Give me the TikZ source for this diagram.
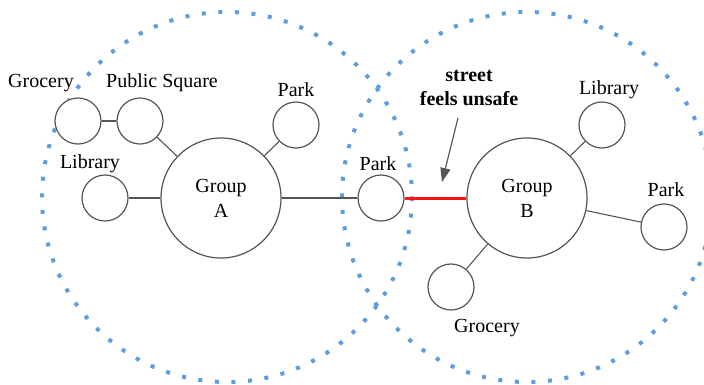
\documentclass[tikz,border=0pt]{standalone}
\usepackage{fontspec}
\setmainfont{Liberation Serif}
\usetikzlibrary{arrows.meta}
\definecolor{dotblue}{RGB}{95,158,222}
\definecolor{edgegray}{RGB}{85,85,85}
\definecolor{streetred}{RGB}{255,20,20}
\tikzset{
  spot/.style={circle, draw=edgegray, line width=1.2pt, minimum size=46pt, inner sep=0pt, fill=white},
  grp/.style={circle, draw=edgegray, line width=1.2pt, minimum size=120pt, inner sep=0pt, fill=white, align=center, font=\fontsize{20}{25}\selectfont},
  lbl/.style={font=\fontsize{20}{24}\selectfont, inner sep=0pt},
  link/.style={draw=edgegray, line width=1.1pt},
  zone/.style={draw=dotblue, line width=4pt, dash pattern=on 4pt off 12.6pt}
}
\begin{document}
\begin{tikzpicture}[x=1pt,y=-1pt]
\clip (0,0) rectangle (704,384);
\fill[white] (0,0) rectangle (704,384);
% zones
\draw[zone] (227,197) circle (185);
\draw[zone] (527,197) circle (185);
% nodes
\node[grp] (ga) at (221,198) {Group\\A};
\node[grp] (gb) at (527,198) {Group\\B};
\node[spot] (gro1) at (78,121) {};
\node[spot] (pub) at (140,121) {};
\node[spot] (park1) at (296,125) {};
\node[spot] (lib1) at (105,198) {};
\node[spot] (park2) at (381,198) {};
\node[spot] (lib2) at (602,125) {};
\node[spot] (park3) at (664,227) {};
\node[spot] (gro2) at (451,287) {};
% labels
\node[lbl] (tgro1) at (41,83) {Grocery};
\node[lbl] (tpub) at (162,83) {Public Square};
\node[lbl] (tpark1) at (296,90) {Park};
\node[lbl] (tlib1) at (90,164) {Library};
\node[lbl] (tpark2) at (378,164) {Park};
\node[lbl] (tlib2) at (609,90) {Library};
\node[lbl] (tpark3) at (666,190) {Park};
\node[lbl] (tgro2) at (487,328) {Grocery};
\node[lbl, font=\fontsize{20}{24}\selectfont\bfseries, align=center] (street) at (469,88) {street\\feels unsafe};
% links
\draw[link] (gro1) -- (pub);
\draw[link] (pub) -- (ga);
\draw[link] (park1) -- (ga);
\draw[link] (lib1) -- (ga);
\draw[link] (ga) -- (park2);
\draw[link] (lib2) -- (gb);
\draw[link] (gb) -- (park3);
\draw[link] (gb) -- (gro2);
\draw[draw=streetred, line width=3pt] (park2) -- (gb);
% arrow
\coordinate (atip) at (442,182);
\draw[draw=edgegray, line width=1.2pt, -{Triangle[length=14pt,width=10pt]}] (street.south) ++(-11,12) -- (atip);
\end{tikzpicture}
\end{document}
